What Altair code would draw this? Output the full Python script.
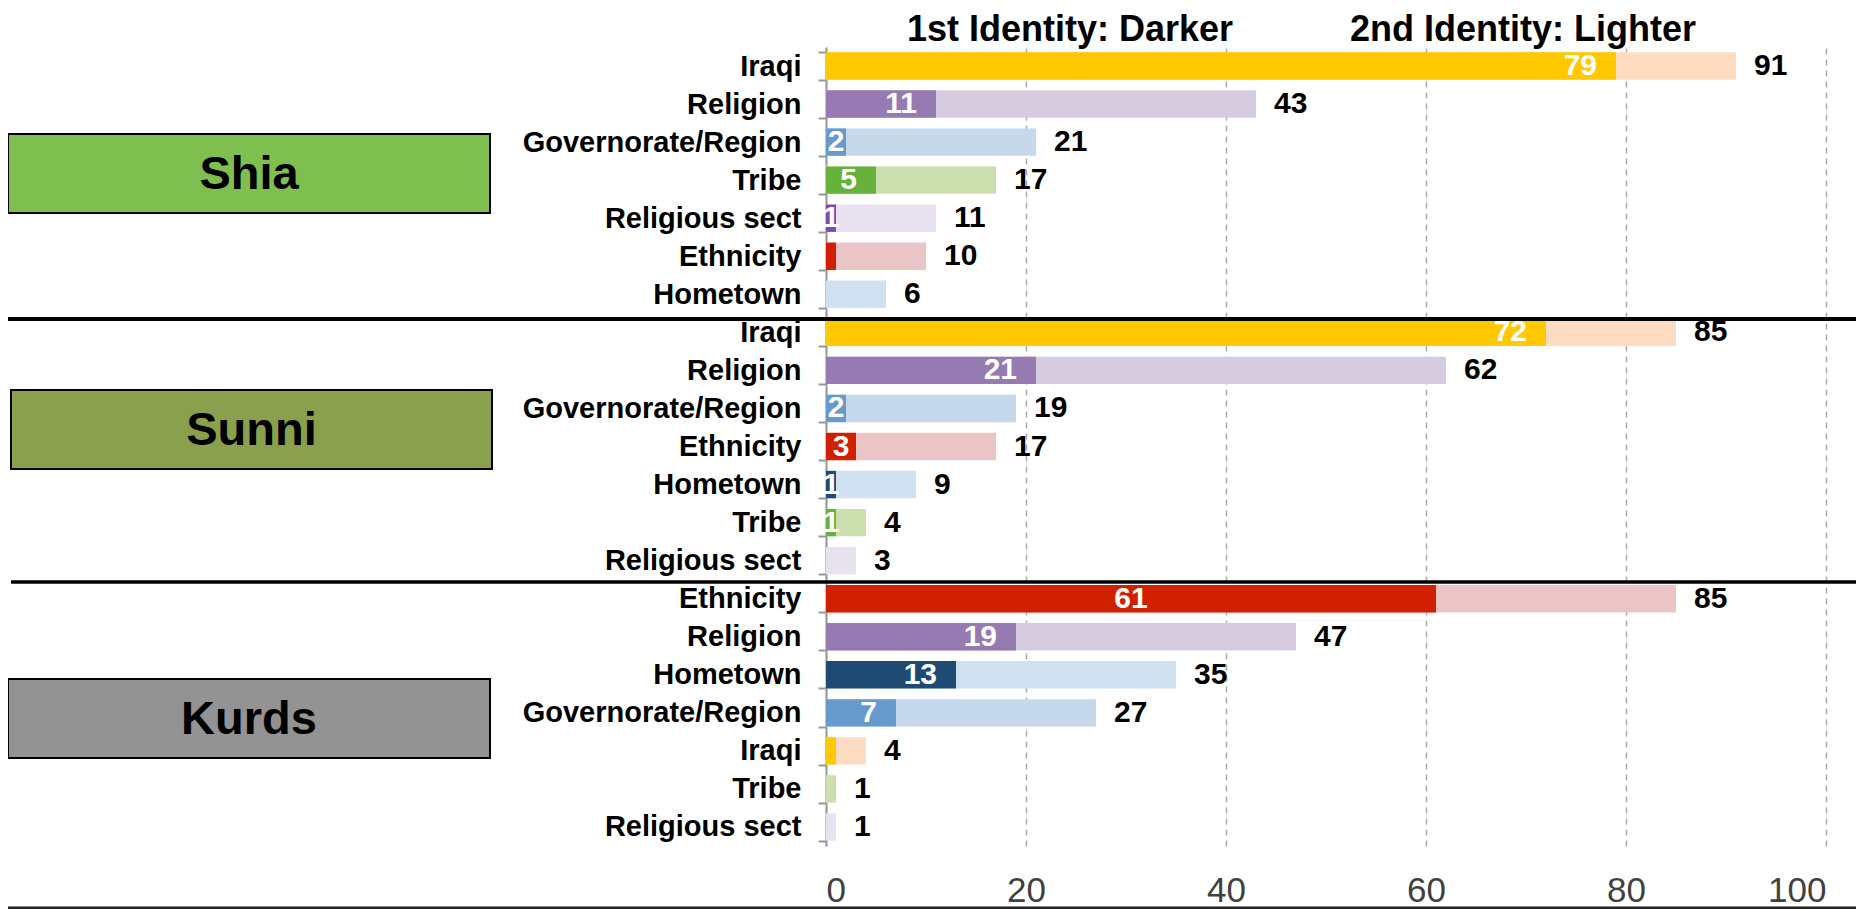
import altair as alt
import pandas as pd

# ---------------- data ----------------
groups = ["Shia"] * 7 + ["Sunni"] * 7 + ["Kurds"] * 7
identities = [
    "Iraqi", "Religion", "Governorate/Region", "Tribe", "Religious sect", "Ethnicity", "Hometown",
    "Iraqi", "Religion", "Governorate/Region", "Ethnicity", "Hometown", "Tribe", "Religious sect",
    "Ethnicity", "Religion", "Hometown", "Governorate/Region", "Iraqi", "Tribe", "Religious sect",
]
first_identity = [79, 11, 2, 5, 1, 1, 0,
                  72, 21, 2, 3, 1, 1, 0,
                  61, 19, 13, 7, 1, 0, 0]
first_or_second = [91, 43, 21, 17, 11, 10, 6,
                   85, 62, 19, 17, 9, 4, 3,
                   85, 47, 35, 27, 4, 1, 1]
first_labels = ["79", "11", "2", "5", "1", "", "",
                "72", "21", "2", "3", "1", "1", "",
                "61", "19", "13", "7", "", "", ""]
label_centered = [False, False, True, False, True, False, False,
                  False, False, True, True, True, True, False,
                  True, False, False, False, False, False, False]

identity_names = ["Iraqi", "Religion", "Governorate/Region", "Tribe",
                  "Religious sect", "Ethnicity", "Hometown"]
dark_colors = ["#FFC800", "#957BB1", "#6699CC", "#66B23A", "#7E4BB2", "#D02000", "#1F4A73"]
light_colors = ["#FDDCC2", "#D6CCE0", "#C5D8EC", "#CCDFAE", "#E8E2F0", "#EBC5C5", "#CFE0F1"]

group_names = ["Shia", "Sunni", "Kurds"]
group_colors = ["#7FBF50", "#8AA04C", "#939393"]

titles = ["1st Identity: Darker", "2nd Identity: Lighter"]

FONT = "Liberation Sans"

df = pd.DataFrame({
    "group": groups,
    "identity": identities,
    "first": first_identity,
    "total": first_or_second,
    "flabel": first_labels,
    "centered": label_centered,
})
df["key"] = df["group"] + "|" + df["identity"]
row_order = list(df["key"])

base = alt.Chart(df)

y_enc = alt.Y(
    "key:N",
    sort=row_order,
    scale=alt.Scale(paddingInner=0.28, paddingOuter=0.14),
    axis=alt.Axis(
        title=None,
        labelExpr="split(datum.label, '|')[1]",
        labelFont=FONT,
        labelFontSize=29,
        labelFontWeight="bold",
        labelColor="black",
        labelPadding=17,
        labelLimit=0,
        tickBand="extent",
        tickSize=8,
        tickWidth=2,
        tickColor="#999999",
        domainColor="#999999",
        domainWidth=2,
        grid=False,
    ),
)

x_scale = alt.Scale(domain=[0, 100], nice=False)
x_axis = alt.Axis(
    values=[0, 20, 40, 60, 80, 100],
    title=None,
    grid=True,
    gridDash=[6, 5],
    gridColor="#AAAAAA",
    gridWidth=1.5,
    domain=False,
    ticks=False,
    labelFont=FONT,
    labelFontSize=35,
    labelColor="#404040",
    labelPadding=27,
)

light = base.mark_bar().encode(
    x=alt.X("total:Q", scale=x_scale, axis=x_axis),
    y=y_enc,
    color=alt.Color("identity:N", scale=alt.Scale(domain=identity_names, range=light_colors), legend=None),
)

dark = base.transform_filter("datum.first > 0").mark_bar().encode(
    x=alt.X("first:Q"),
    y=alt.Y("key:N", sort=row_order),
    fill=alt.Fill("identity:N", scale=alt.Scale(domain=identity_names, range=dark_colors), legend=None),
)

lab_end = base.transform_filter("datum.flabel != '' && !datum.centered").mark_text(
    align="right", dx=-19, font=FONT, fontSize=30, fontWeight="bold", color="white"
).encode(x="first:Q", y=alt.Y("key:N", sort=row_order), text="flabel:N")

lab_mid = base.transform_filter("datum.flabel != '' && datum.centered").transform_calculate(
    mid="datum.first / 2"
).mark_text(
    align="center", font=FONT, fontSize=30, fontWeight="bold", color="white"
).encode(x="mid:Q", y=alt.Y("key:N", sort=row_order), text="flabel:N")

lab_total = base.mark_text(
    align="left", dx=18, font=FONT, fontSize=30, fontWeight="bold", color="black"
).encode(x="total:Q", y=alt.Y("key:N", sort=row_order), text="total:Q")

one = pd.DataFrame({"a": [0]})

sep1 = alt.Chart(one).mark_rule(color="black", strokeWidth=4).encode(
    x=alt.value(-819), x2=alt.value(1032), y=alt.value(272)
)
sep2 = alt.Chart(one).mark_rule(color="black", strokeWidth=3.5).encode(
    x=alt.value(-815), x2=alt.value(1032), y=alt.value(535)
)
bottom_line = alt.Chart(one).mark_rule(color="#222222", strokeWidth=3).encode(
    x=alt.value(-826), x2=alt.value(1032), y=alt.value(861)
)

box_pos = [(-818, -336, 87, 166), (-815, -334, 343, 422), (-818, -336, 632, 711)]
boxes = []
for name, col, (x1, x2, y1, y2) in zip(group_names, group_colors, box_pos):
    gdf = pd.DataFrame({"g": [name]})
    boxes.append(
        alt.Chart(gdf).mark_rect(fill=col, stroke="black", strokeWidth=2).encode(
            x=alt.value(x1), x2=alt.value(x2), y=alt.value(y1), y2=alt.value(y2)
        )
    )
    boxes.append(
        alt.Chart(gdf).mark_text(
            font=FONT, fontSize=47, fontWeight="bold", color="black", align="center", baseline="middle"
        ).encode(x=alt.value((x1 + x2) / 2), y=alt.value((y1 + y2) / 2 + 1), text="g:N")
    )

title_df = pd.DataFrame({"t": titles})
title1 = alt.Chart(title_df.iloc[[0]]).mark_text(
    font=FONT, fontSize=36, fontWeight="bold", color="black", align="center", baseline="alphabetic"
).encode(x=alt.value(244), y=alt.value(-6), text="t:N")
title2 = alt.Chart(title_df.iloc[[1]]).mark_text(
    font=FONT, fontSize=36, fontWeight="bold", color="black", align="center", baseline="alphabetic"
).encode(x=alt.value(697), y=alt.value(-6), text="t:N")

chart = alt.layer(
    light, dark, lab_end, lab_mid, lab_total, sep1, sep2, bottom_line, *boxes, title1, title2
).properties(
    width=1000,
    height=799,
    padding={"left": 818, "top": 39, "right": 30, "bottom": 63},
    autosize=alt.AutoSizeParams(type="none"),
).configure_view(stroke=None)

chart.save("out.html", embed_options={"renderer": "svg", "actions": False})
